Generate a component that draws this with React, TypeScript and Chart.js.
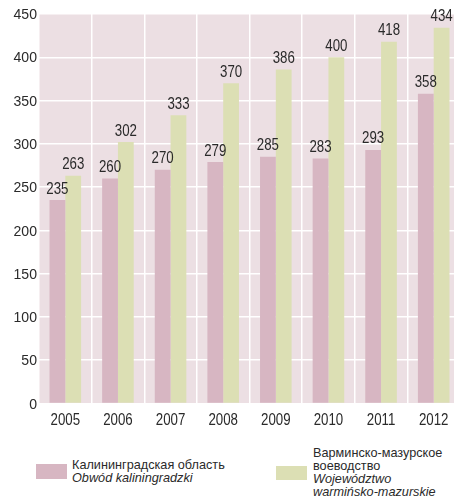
import React, { useEffect, useRef } from "react";
import { Chart, registerables } from "chart.js";

Chart.register(...registerables);

const years = ["2005", "2006", "2007", "2008", "2009", "2010", "2011", "2012"];
const kaliningrad = [235, 260, 270, 279, 285, 283, 293, 358];
const warmia = [263, 302, 333, 370, 386, 400, 418, 434];
const yTicks = [0, 50, 100, 150, 200, 250, 300, 350, 400, 450];

const PINK = "#d7b6c2";
const GREEN = "#dcdfb4";
const BG = "#ecdfe3";
const TEXT = "#2a2a2a";
const FONT = "'Liberation Sans', Arial, sans-serif";

function drawSqueezed(ctx: CanvasRenderingContext2D, text: string, x: number, y: number, sx: number) {
  ctx.save();
  ctx.translate(x, y);
  ctx.scale(sx, 1);
  ctx.fillText(text, 0, 0);
  ctx.restore();
}

const bgPlugin = {
  id: "plotBg",
  beforeDraw(chart: any) {
    const { ctx, chartArea } = chart;
    ctx.save();
    ctx.fillStyle = BG;
    ctx.fillRect(chartArea.left, chartArea.top, chartArea.right - chartArea.left, chartArea.bottom - chartArea.top);
    ctx.restore();
  },
};

const textPlugin = {
  id: "texts",
  afterDraw(chart: any) {
    const { ctx, chartArea } = chart;
    ctx.save();
    ctx.fillStyle = TEXT;
    ctx.textBaseline = "alphabetic";

    // value labels
    ctx.font = `16px ${FONT}`;
    ctx.textAlign = "center";
    chart.data.datasets.forEach((ds: any, i: number) => {
      const meta = chart.getDatasetMeta(i);
      meta.data.forEach((bar: any, j: number) => {
        drawSqueezed(ctx, String(ds.data[j]), bar.x, bar.y - 6.5, 0.83);
      });
    });

    // x tick labels
    const xs = chart.scales.x;
    ctx.font = `16px ${FONT}`;
    ctx.textAlign = "center";
    years.forEach((lab, i) => {
      drawSqueezed(ctx, lab, xs.getPixelForValue(i), chartArea.bottom + 21, 0.83);
    });

    // y tick labels
    const ys = chart.scales.y;
    ctx.font = `14.5px ${FONT}`;
    ctx.textAlign = "right";
    yTicks.forEach((v) => {
      drawSqueezed(ctx, String(v), 37, ys.getPixelForValue(v) + 5.2, 0.97);
    });
    ctx.restore();
  },
};

export default function App() {
  const ref = useRef<HTMLCanvasElement | null>(null);
  useEffect(() => {
    if (!ref.current) return;
    const chart = new Chart(ref.current, {
      type: "bar",
      data: {
        labels: years,
        datasets: [
          { label: "Калининградская область", data: kaliningrad, backgroundColor: PINK },
          { label: "Варминско-мазурское воеводство", data: warmia, backgroundColor: GREEN },
        ],
      },
      options: {
        animation: false,
        responsive: false,
        maintainAspectRatio: false,
        layout: { padding: { top: 14, right: 0, left: 0, bottom: 0 } },
        plugins: { legend: { display: false }, tooltip: { enabled: false } },
        datasets: { bar: { categoryPercentage: 0.6, barPercentage: 1.0 } },
        scales: {
          x: {
            offset: true,
            grid: { offset: true, color: "#ffffff", lineWidth: 1.5, drawTicks: false },
            border: { display: false },
            ticks: { display: false },
            afterFit(scale: any) { scale.height = 30.5; },
          },
          y: {
            min: 0,
            max: 450,
            afterBuildTicks(scale: any) { scale.ticks = yTicks.map((v) => ({ value: v })); },
            grid: { color: "#ffffff", lineWidth: 1.5, drawTicks: false },
            border: { display: false },
            ticks: { display: false },
            afterFit(scale: any) { scale.width = 39; },
          },
        },
      },
      plugins: [bgPlugin, textPlugin],
    });
    return () => chart.destroy();
  }, []);

  const textStyle: React.CSSProperties = {
    fontFamily: FONT,
    fontSize: 12.7,
    lineHeight: "13px",
    color: TEXT,
  };

  return (
    <div style={{ position: "absolute", left: 0, top: 0, width: 454, height: 499, overflow: "hidden", background: "#fff" }}>
      <canvas ref={ref} width={460} height={434} style={{ position: "absolute", left: 0, top: 0 }} />
      <div style={{ position: "absolute", left: 36, top: 464, width: 31, height: 15, background: PINK }} />
      <div style={{ ...textStyle, position: "absolute", left: 72, top: 459 }}>
        <div>Калининградская область</div>
        <div style={{ fontStyle: "italic" }}>Obwód kaliningradzki</div>
      </div>
      <div style={{ position: "absolute", left: 276, top: 466, width: 31, height: 14, background: GREEN }} />
      <div style={{ ...textStyle, position: "absolute", left: 313, top: 447 }}>
        <div>Варминско-мазурское</div>
        <div>воеводство</div>
        <div style={{ fontStyle: "italic" }}>Województwo</div>
        <div style={{ fontStyle: "italic" }}>warmińsko-mazurskie</div>
      </div>
    </div>
  );
}
